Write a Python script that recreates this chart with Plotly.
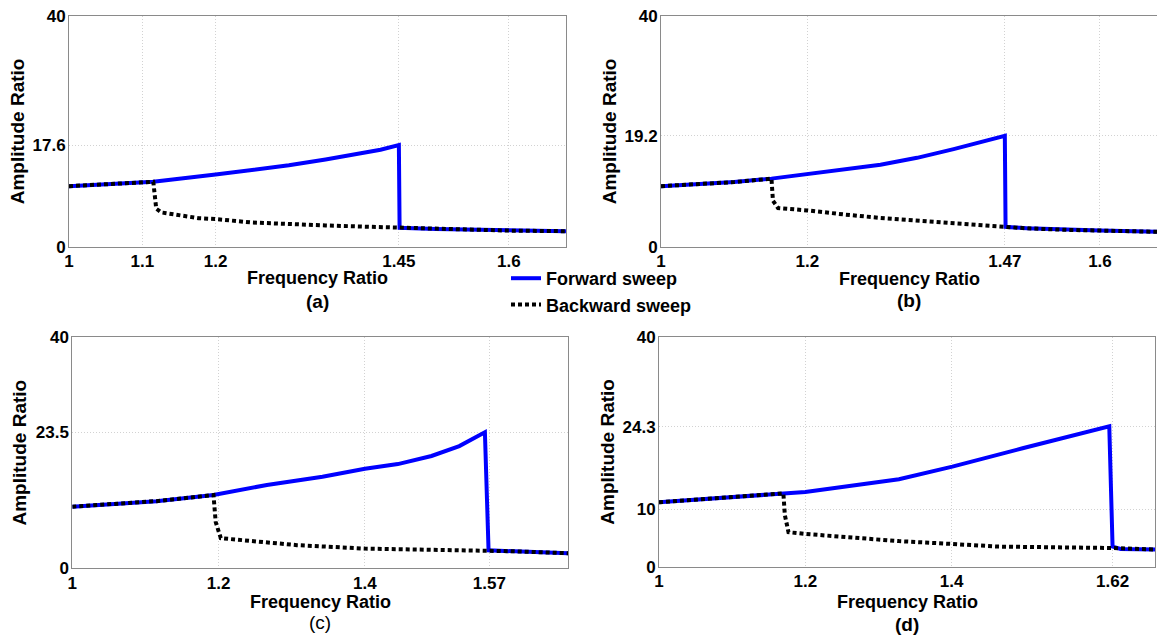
import plotly.graph_objects as go

W, H = 1157, 638

# ---------------- data ----------------
# (a)
a_fwd_x = [1.0, 1.05, 1.115, 1.2, 1.26, 1.3, 1.35, 1.4, 1.425, 1.45, 1.451, 1.5, 1.55, 1.6, 1.678]
a_fwd_y = [10.5, 10.8, 11.25, 12.5, 13.4, 14.1, 15.1, 16.2, 16.8, 17.6, 3.3, 3.1, 2.95, 2.8, 2.7]
a_bwd_x = [1.0, 1.05, 1.115, 1.119, 1.126, 1.177, 1.2, 1.25, 1.3, 1.35, 1.4, 1.451, 1.5, 1.55, 1.6, 1.678]
a_bwd_y = [10.5, 10.8, 11.25, 6.6, 5.95, 4.95, 4.8, 4.2, 3.9, 3.7, 3.5, 3.3, 3.1, 2.95, 2.8, 2.7]

# (b)
b_fwd_x = [1.0, 1.05, 1.1, 1.151, 1.2, 1.25, 1.3, 1.35, 1.4, 1.47, 1.471, 1.5, 1.55, 1.6, 1.678]
b_fwd_y = [10.5, 10.8, 11.2, 11.8, 12.6, 13.4, 14.2, 15.4, 16.9, 19.2, 3.45, 3.2, 2.95, 2.8, 2.6]
b_bwd_x = [1.0, 1.05, 1.1, 1.151, 1.153, 1.16, 1.2, 1.25, 1.3, 1.393, 1.471, 1.5, 1.55, 1.6, 1.678]
b_bwd_y = [10.5, 10.8, 11.2, 11.8, 8.0, 6.7, 6.3, 5.6, 5.0, 4.15, 3.45, 3.2, 2.95, 2.8, 2.6]

# (c)
c_fwd_x = [1.0, 1.05, 1.115, 1.193, 1.266, 1.342, 1.4, 1.445, 1.491, 1.529, 1.564, 1.569, 1.6, 1.678]
c_fwd_y = [10.65, 11.05, 11.6, 12.65, 14.4, 15.8, 17.2, 18.0, 19.4, 21.1, 23.5, 3.1, 2.95, 2.6]
c_bwd_x = [1.0, 1.05, 1.115, 1.193, 1.196, 1.203, 1.25, 1.307, 1.4, 1.5, 1.569, 1.6, 1.678]
c_bwd_y = [10.65, 11.05, 11.6, 12.65, 8.0, 5.2, 4.6, 4.0, 3.4, 3.2, 3.05, 2.95, 2.6]

# (d)
d_fwd_x = [1.0, 1.1, 1.17, 1.2, 1.328, 1.401, 1.497, 1.552, 1.6155, 1.62, 1.631, 1.678]
d_fwd_y = [11.2, 12.1, 12.75, 13.0, 15.2, 17.4, 20.6, 22.4, 24.4, 3.5, 3.1, 3.0]
d_bwd_x = [1.0, 1.1, 1.17, 1.172, 1.177, 1.2, 1.328, 1.401, 1.4636, 1.62, 1.678]
d_bwd_y = [11.2, 12.1, 12.75, 9.0, 6.0, 5.7, 4.45, 3.95, 3.5, 3.25, 3.0]

a_xticks = [1, 1.1, 1.2, 1.45, 1.6]
a_yticks = [0, 17.6, 40]
b_xticks = [1, 1.2, 1.47, 1.6]
b_yticks = [0, 19.2, 40]
c_xticks = [1, 1.2, 1.4, 1.57]
c_yticks = [0, 23.5, 40]
d_xticks = [1, 1.2, 1.4, 1.62]
d_yticks = [0, 10, 24.3, 40]

panel_labels = ["(a)", "(b)", "(c)", "(d)"]
x_title = "Frequency Ratio"
y_title = "Amplitude Ratio"
series_names = ["Forward sweep", "Backward sweep"]

# ---------------- layout geometry (pixels) ----------------
# left, right, top, bottom
boxes = [
    (69, 566, 15.7, 246.8),
    (661, 1157, 15.7, 246.8),
    (72.3, 568.3, 336.7, 568.3),
    (659, 1155, 336.7, 566.7),
]
xtitle_y = [278, 279, 602, 602]
label_y = [301, 300, 622, 624]
ytitle_x = [17, 609, 19, 608]

panels = [
    (a_fwd_x, a_fwd_y, a_bwd_x, a_bwd_y, a_xticks, a_yticks),
    (b_fwd_x, b_fwd_y, b_bwd_x, b_bwd_y, b_xticks, b_yticks),
    (c_fwd_x, c_fwd_y, c_bwd_x, c_bwd_y, c_xticks, c_yticks),
    (d_fwd_x, d_fwd_y, d_bwd_x, d_bwd_y, d_xticks, d_yticks),
]

FONT = "Liberation Sans"
BLUE = "#0000FF"
fig = go.Figure()
annotations = []

def fmt(v):
    return "%g" % v

for i, (fx, fy, bx, by, xt, yt) in enumerate(panels):
    n = "" if i == 0 else str(i + 1)
    xa, ya = "x" + n, "y" + n
    fig.add_trace(go.Scatter(x=fx, y=fy, mode="lines", name=series_names[0],
                             line=dict(color=BLUE, width=4),
                             xaxis=xa, yaxis=ya, showlegend=(i == 0), legendrank=1))
    fig.add_trace(go.Scatter(x=bx, y=by, mode="lines", name=series_names[1],
                             line=dict(color="black", width=4, dash="4px,3px"),
                             xaxis=xa, yaxis=ya, showlegend=(i == 0), legendrank=2))
    l, r, t, b = boxes[i]
    axis_common = dict(showline=True, linecolor="#8a8a8a", linewidth=1, mirror=True,
                       showgrid=True, gridcolor="#d2d2d2", griddash="1px,2px", gridwidth=1,
                       zeroline=False, ticks="", automargin=False,
                       tickfont=dict(family=FONT, size=17, color="black", weight="bold"))
    fig.layout["xaxis" + n] = dict(axis_common, domain=[l / W, r / W], range=[1, 1.678],
                                   tickvals=xt, ticktext=[fmt(v) for v in xt],
                                   ticklabelstandoff=-1, anchor=ya)
    fig.layout["yaxis" + n] = dict(axis_common, domain=[1 - b / H, 1 - t / H], range=[0, 40],
                                   tickvals=yt, ticktext=[fmt(v) for v in yt],
                                   ticklabelstandoff=-1, anchor=xa)
    cx = (l + r) / 2
    annotations.append(dict(x=cx / W, y=1 - xtitle_y[i] / H, xref="paper", yref="paper",
                            text=x_title, showarrow=False, xanchor="center", yanchor="middle",
                            font=dict(family=FONT, size=18, color="black", weight="bold")))
    annotations.append(dict(x=cx / W, y=1 - label_y[i] / H, xref="paper", yref="paper",
                            text=panel_labels[i], showarrow=False, xanchor="center", yanchor="middle",
                            font=dict(family=FONT, size=19, color="black",
                                      weight=("normal" if i == 2 else "bold"))))
    annotations.append(dict(x=ytitle_x[i] / W, y=1 - (t + b) / 2 / H, xref="paper", yref="paper",
                            text=y_title, showarrow=False, textangle=-90,
                            xanchor="center", yanchor="middle",
                            font=dict(family=FONT, size=19, color="black", weight="bold")))

fig.update_layout(
    width=W, height=H,
    margin=dict(l=0, r=0, t=0, b=0, autoexpand=False),
    paper_bgcolor="white", plot_bgcolor="white",
    annotations=annotations,
    showlegend=True,
    legend=dict(x=506 / W, y=1 - 260 / H, xanchor="left", yanchor="top",
                bgcolor="rgba(0,0,0,0)", borderwidth=0, itemwidth=30,
                tracegroupgap=0,
                font=dict(family=FONT, size=18, color="black", weight="bold")),
)

fig.write_html("out.html")
